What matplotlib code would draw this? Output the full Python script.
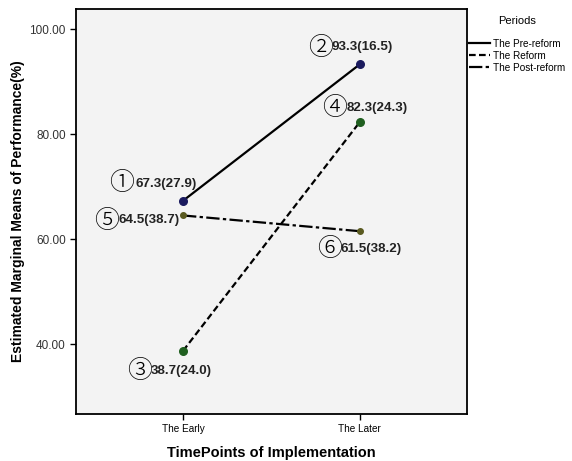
import numpy as np
import matplotlib
matplotlib.use('Agg')
import matplotlib.pyplot as plt

timepoints = ['The Early', 'The Later']
periods = ['The Pre-reform', 'The Reform', 'The Post-reform']
pre_reform = [67.3, 93.3]
reform = [38.7, 82.3]
post_reform = [64.5, 61.5]
sds_pre = [27.9, 16.5]
sds_reform = [24.0, 24.3]
sds_post = [38.7, 38.2]
circled = ['①', '②', '③', '④', '⑤', '⑥']

fig = plt.figure(figsize=(5.72, 4.61), dpi=100)
ax = fig.add_axes([0.133, 0.102, 0.683, 0.878])
ax.set_facecolor('#f3f3f3')

x = np.arange(len(timepoints))
ax.plot(x, pre_reform, color='black', lw=1.6, ls='-', label=periods[0], zorder=2)
ax.plot(x, reform, color='black', lw=1.6, ls=(0, (3, 1.5)), label=periods[1], zorder=2)
ax.plot(x, post_reform, color='black', lw=1.6, ls=(0, (6, 1.5, 1.5, 1.5)), label=periods[2], zorder=2)
ax.scatter(x, pre_reform, color='#1a1a5e', s=30, zorder=3)
ax.scatter(x, reform, color='#1f5f1f', s=30, zorder=3)
ax.scatter(x, post_reform, color='#5a5a20', s=16, zorder=3)

# (series, sds, point index, circle number, circle offset, text offset) in pixels
labels = [
    (pre_reform, sds_pre, 0, 0, (-61, 18), (-48, 17)),
    (pre_reform, sds_pre, 1, 1, (-39, 17), (-28, 17)),
    (reform, sds_reform, 0, 2, (-43, -20), (-32, -20)),
    (reform, sds_reform, 1, 3, (-25, 14), (-13, 14)),
    (post_reform, sds_post, 0, 4, (-76, -5), (-65, -5)),
    (post_reform, sds_post, 1, 5, (-30, -18), (-19, -18)),
]
for vals, sds, i, c, coff, toff in labels:
    ax.annotate(circled[c], (x[i], vals[i]), xytext=coff, textcoords='offset pixels',
                ha='center', va='center', fontsize=18, family=['Noto Sans CJK JP', 'DejaVu Serif'],
                fontweight='light')
    ax.annotate('%.1f(%.1f)' % (vals[i], sds[i]), (x[i], vals[i]), xytext=toff,
                textcoords='offset pixels', ha='left', va='center', fontsize=9.6,
                fontweight='bold', family='Liberation Sans', color='#222222')

ax.set_xlim(-0.605, 1.605)
ax.set_ylim(26.67, 103.8)
ax.set_xticks(x)
ax.set_xticklabels(timepoints, fontsize=7.2, family='Liberation Sans')
ax.set_yticks([40, 60, 80, 100])
ax.set_yticklabels(['%.2f' % v for v in [40, 60, 80, 100]], fontsize=8.5, family='Liberation Sans',
                   color='#333333')
ax.tick_params(direction='out', length=4, width=1)
for s in ax.spines.values():
    s.set_linewidth(1.3)

ax.set_xlabel('TimePoints of Implementation', fontsize=10.5, fontweight='bold',
              family='Liberation Sans', va='center')
ax.xaxis.set_label_coords(0.5, -0.096)
ax.set_ylabel('Estimated Marginal Means of Performance(%)', fontsize=10, fontweight='bold',
              family='Liberation Sans', va='center')
ax.yaxis.set_label_coords(-0.148, 0.5)

leg = ax.legend(loc='upper left', bbox_to_anchor=(0.99, 0.997), frameon=False,
                title='Periods', handlelength=2.1, handletextpad=0.3, labelspacing=0.2,
                borderaxespad=0.2, prop={'family': 'Liberation Sans', 'size': 7.2})
leg.get_title().set_fontfamily('Liberation Sans')
leg.get_title().set_fontsize(8)
leg._legend_box.sep = 9

fig.savefig('out.png', dpi=100)
